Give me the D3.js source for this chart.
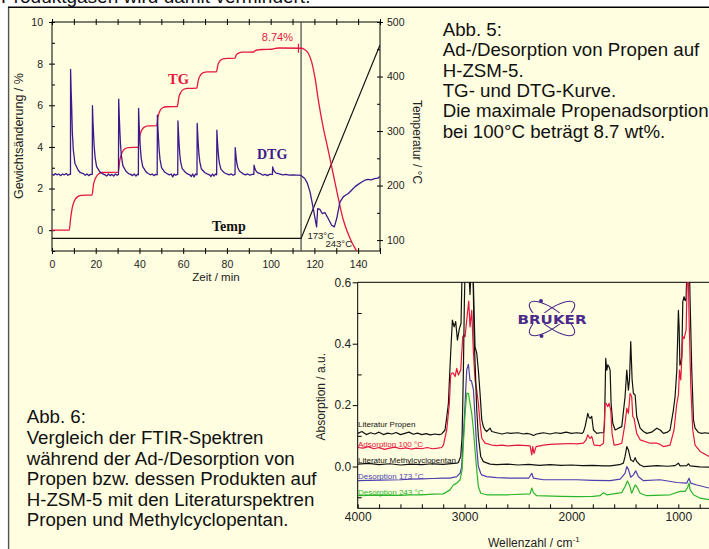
<!DOCTYPE html>
<html><head><meta charset="utf-8">
<script src="https://cdn.jsdelivr.net/npm/d3@7"></script>
<style>
html,body{margin:0;padding:0;background:#fff;}
svg{display:block;font-family:"Liberation Sans",Arial,sans-serif;}
</style></head><body>
<svg id="c" width="709" height="549"></svg>
<script>
// ---------- Abb. 5 data (time in min) ----------
const tgData = [[0,0],[7.9,0],[8.5,0.55],[9.3,1.1],[10.3,1.42],[11.6,1.6],[13.3,1.67],[18.3,1.69],
[19.0,2.2],[19.9,2.5],[21.1,2.68],[22.8,2.77],[30.3,2.79],
[31.0,3.35],[32.0,3.72],[33.2,3.9],[35.0,3.97],[39.4,3.98],
[40.1,4.5],[41.0,4.8],[42.2,4.95],[44.0,5.01],[47.9,5.02],
[48.5,5.45],[49.4,5.74],[50.6,5.88],[52.5,5.93],[57.3,5.94],
[58.0,6.38],[59.0,6.64],[60.3,6.77],[62.0,6.81],[66.2,6.82],
[66.9,7.2],[67.9,7.45],[69.2,7.57],[71.0,7.6],[75.2,7.61],
[75.9,7.95],[76.9,8.14],[78.3,8.23],[80.0,8.25],[83.6,8.26],
[84.3,8.42],[85.5,8.52],[87.0,8.55],[92.2,8.56],
[92.9,8.62],[94.2,8.66],[96.0,8.68],[100.7,8.69],
[101.3,8.72],[102.5,8.74],[104.0,8.75],[114.0,8.74],
[115.5,8.68],[117.2,8.5],[118.7,8.1],[120.3,7.3],[121.8,6.25],[124.0,4.95],[126.3,3.85],[128.0,3.0],
[129.5,2.25],[131.0,1.5],[133.2,0.5],[136.3,-0.4],[139.3,-1.0],[141,-1.3]];

const dtgData = [[0,2.7],[0.8,2.64],[1.5,2.72],[2.3,2.66],[3.1,2.7],[4,2.62],[4.8,2.7],[5.6,2.66],[6.5,2.72],[7.3,2.64],[8.0,2.68],[8.45,2.68],
[8.5,7.72],[8.75,6.7],[9.0,5.9],[9.3,4.7],[9.75,3.85],[10.5,3.2],[12,2.88],[13,2.76],[14.3,2.72],[15.2,2.64],[16,2.7],[16.8,2.62],[17.6,2.68],[18.4,2.68],
[18.5,5.98],[18.75,5.2],[19,4.6],[19.3,4.0],[19.7,3.5],[20.4,3.05],[21.9,2.8],[23,2.72],[24.2,2.66],[25,2.6],[25.8,2.7],[26.6,2.62],[27.4,2.68],[28.2,2.6],[29,2.7],[29.8,2.64],[30.4,2.68],
[30.5,6.3],[30.75,5.5],[31,4.85],[31.3,4.15],[31.7,3.6],[32.4,3.1],[33.9,2.82],[35,2.72],[36,2.68],[36.8,2.62],[37.6,2.7],[38.4,2.6],[39.0,2.68],[39.5,2.66],
[39.6,5.85],[39.85,5.1],[40.1,4.55],[40.4,3.95],[40.8,3.45],[41.5,3.05],[43,2.8],[44,2.72],[45,2.66],[45.8,2.7],[46.6,2.62],[47.4,2.68],[48.1,2.66],
[48.2,5.53],[48.45,4.9],[48.7,4.4],[49,3.85],[49.4,3.4],[50.1,3.0],[51.6,2.78],[52.6,2.72],[53.7,2.66],[54.5,2.7],[55.2,2.56],[55.8,2.7],[56.5,2.64],[57.5,2.68],
[57.6,5.25],[57.85,4.7],[58.1,4.2],[58.4,3.7],[58.8,3.3],[59.5,2.97],[61,2.78],[62,2.7],[63,2.66],[63.7,2.58],[64.3,2.7],[65,2.56],[65.6,2.7],[66.3,2.66],
[66.4,5.13],[66.65,4.6],[66.9,4.1],[67.2,3.65],[67.6,3.28],[68.3,2.95],[69.8,2.77],[71,2.7],[72,2.66],[72.7,2.58],[73.4,2.7],[74.1,2.6],[74.8,2.7],[75.3,2.66],
[75.4,4.8],[75.65,4.3],[75.9,3.9],[76.2,3.5],[76.6,3.2],[77.3,2.92],[78.8,2.76],[80,2.7],[81,2.66],[82,2.7],[82.8,2.64],[83.7,2.68],
[83.8,3.97],[84.05,3.65],[84.3,3.42],[84.6,3.18],[85,3.0],[85.7,2.84],[87.2,2.72],[88.5,2.66],[89.5,2.7],[90.5,2.64],[91.5,2.68],[92.3,2.68],
[92.4,3.12],[92.7,3.0],[93.2,2.86],[94,2.76],[95.5,2.7],[96.5,2.64],[97.5,2.68],[98.5,2.62],[99.5,2.68],[100.8,2.68],
[100.9,3.04],[101.2,2.94],[101.7,2.82],[102.5,2.74],[104,2.7],[105.5,2.66],[107,2.68],[108.5,2.64],[110,2.66],[111.5,2.64],[113,2.64],[114,2.62],
[115.6,2.48],[116.8,2.25],[118,1.84],[119.5,1.04],[120.3,0.56],[121,0.16],[121.5,1.04],[122.5,1.0],[123.6,0.8],[124.8,0.85],[126.3,0.56],[127.9,0.24],[129.1,0.16],
[130.2,0.56],[131.7,1.36],[133.2,1.6],[134.2,1.68],[135.5,1.76],[137,1.92],[138.5,2.08],[140,2.2],[141.5,2.3],[143.1,2.4],[144.5,2.44],[146,2.42],[147.5,2.48],[149,2.5],[150,2.58]];

const tempData = [[0,103],[113.9,103],[150,458]];
const switchTime = 113.9;
const maxMark = [112.7, 8.74];

const timeTicks = [0,20,40,60,80,100,120,140];
const timeMinor = d3.range(0,151,10);
const weightTicks = [0,2,4,6,8,10];
const weightMinor = d3.range(-1,11,1);
const tempTicks = [100,200,300,400,500];
const tempMinor = d3.range(100,501,50);

// ---------- Abb. 6 data (wavenumber cm-1, absorbance) ----------
const specPropen = [[4000,0.108],[3960,0.114],[3920,0.104],[3880,0.110],[3840,0.106],[3800,0.112],[3760,0.104],[3720,0.109],[3680,0.106],[3640,0.111],[3600,0.104],[3560,0.108],[3520,0.112],[3480,0.105],[3440,0.109],[3400,0.104],[3360,0.107],[3320,0.103],[3280,0.106],[3240,0.104],[3214,0.106],
[3183,0.119],[3167,0.16],[3151,0.206],[3142,0.28],[3130,0.369],[3114,0.477],[3098,0.455],[3083,0.472],[3067,0.412],[3048,0.45],[3033,0.466],[3020,0.7],[2964,0.7],[2955,0.6],[2949,0.56],[2942,0.62],[2924,0.7],[2911,0.5],[2902,0.39],[2886,0.369],[2871,0.314],[2855,0.238],[2839,0.152],[2824,0.13],[2808,0.119],[2793,0.114],[2761,0.125],[2746,0.114],
[2700,0.110],[2650,0.106],[2600,0.110],[2574,0.108],[2500,0.11],[2450,0.106],[2418,0.108],[2387,0.106],[2356,0.101],[2325,0.106],[2293,0.108],[2262,0.110],[2200,0.106],[2150,0.110],[2100,0.108],[2050,0.112],[2000,0.108],[1950,0.110],[1900,0.108],[1888,0.112],
[1872,0.130],[1847,0.173],[1835,0.16],[1825,0.157],[1810,0.163],[1794,0.119],[1763,0.108],[1732,0.110],[1700,0.110],[1691,0.13],[1679,0.352],[1669,0.314],[1660,0.331],[1648,0.325],[1638,0.314],[1629,0.206],[1613,0.141],[1591,0.119],[1560,0.125],[1529,0.13],
[1498,0.228],[1482,0.314],[1467,0.249],[1457,0.282],[1445,0.407],[1432,0.282],[1420,0.238],[1404,0.233],[1389,0.163],[1357,0.125],[1326,0.114],[1295,0.108],[1250,0.112],[1201,0.125],[1170,0.119],[1139,0.108],[1100,0.112],[1077,0.119],[1046,0.184],[1030,0.228],[1014,0.314],
[999,0.509],[992,0.45],[985,0.33],[975,0.34],[967,0.36],[958,0.537],[946,0.553],[935,0.54],[927,0.547],[915,0.7],[899,0.7],[889,0.531],[874,0.314],[858,0.152],[843,0.125],[812,0.111],[780,0.108],[750,0.110],[712,0.108],[650,0.108]];

const specAds100 = [[4000,0.062],[3950,0.060],[3900,0.065],[3850,0.058],[3800,0.062],[3750,0.056],[3700,0.060],[3650,0.063],[3600,0.058],[3550,0.061],[3500,0.057],[3450,0.060],[3400,0.058],[3350,0.062],[3300,0.058],[3250,0.060],[3214,0.062],
[3198,0.070],[3167,0.119],[3142,0.206],[3130,0.298],[3120,0.304],[3105,0.304],[3089,0.293],[3073,0.32],[3058,0.298],[3036,0.314],[3017,0.423],[3005,0.428],[2995,0.423],[2980,0.477],[2961,0.539],[2949,0.455],[2933,0.509],[2917,0.369],[2902,0.282],[2886,0.249],[2871,0.206],[2855,0.141],[2839,0.092],[2808,0.076],[2746,0.070],
[2700,0.068],[2650,0.070],[2600,0.067],[2500,0.070],[2418,0.068],[2387,0.067],[2371,0.038],[2362,0.065],[2350,0.043],[2331,0.065],[2262,0.070],[2200,0.072],[2100,0.074],[2000,0.075],[1950,0.074],[1888,0.076],
[1863,0.087],[1847,0.103],[1835,0.096],[1825,0.092],[1810,0.098],[1788,0.070],[1732,0.068],[1700,0.076],[1685,0.206],[1676,0.206],[1660,0.195],[1648,0.206],[1632,0.184],[1620,0.108],[1601,0.070],[1560,0.072],[1529,0.076],
[1498,0.141],[1482,0.19],[1467,0.173],[1451,0.238],[1436,0.228],[1426,0.163],[1414,0.157],[1389,0.108],[1357,0.087],[1264,0.076],[1201,0.076],[1170,0.072],[1139,0.065],[1077,0.070],[1040,0.119],[1014,0.206],
[999,0.233],[989,0.314],[977,0.282],[958,0.423],[946,0.417],[927,0.444],[911,0.7],[899,0.48],[883,0.260],[865,0.119],[843,0.070],[796,0.049],[712,0.033],[650,0.025]];

const specMCP = [[4000,0.008],[3900,0.010],[3800,0.006],[3700,0.009],[3600,0.005],[3500,0.008],[3400,0.006],[3300,0.009],[3200,0.007],[3100,0.010],[3073,0.011],[3058,0.013],[3036,0.033],[3023,0.098],[3011,0.314],[3002,0.531],[2992,0.7],[2924,0.7],[2911,0.423],[2899,0.314],[2886,0.184],[2871,0.098],[2849,0.033],[2824,0.016],[2761,0.008],
[2700,0.006],[2600,0.008],[2500,0.005],[2400,0.007],[2300,0.004],[2200,0.006],[2100,0.004],[2000,0.005],[1900,0.003],[1800,0.004],[1700,0.002],[1638,0.002],[1550,0.006],[1514,0.011],[1498,0.033],[1482,0.065],[1467,0.054],[1445,0.022],[1420,0.016],[1404,0.029],[1389,0.016],[1357,0.005],[1326,0.0],
[1200,0.003],[1100,0.001],[1030,0.003],[999,0.011],[983,0.002],[921,0.003],[905,0.009],[889,0.002],[800,-0.001],[712,-0.002],[650,-0.003]];

const specDes173 = [[4000,-0.046],[3800,-0.044],[3600,-0.043],[3510,-0.041],[3400,-0.040],[3300,-0.039],[3200,-0.038],[3136,-0.038],[3073,-0.033],[3042,-0.022],[3027,0.0],[3011,0.098],[2995,0.206],[2980,0.314],[2964,0.333],[2949,0.28],[2936,0.28],[2917,0.25],[2902,0.16],[2886,0.06],[2871,0.0],[2849,-0.022],[2839,-0.027],[2793,-0.033],
[2700,-0.036],[2574,-0.038],[2400,-0.038],[2371,-0.022],[2356,-0.038],[2262,-0.043],[2100,-0.043],[1950,-0.043],[1800,-0.045],[1638,-0.046],[1544,-0.041],[1498,-0.022],[1482,0.0],[1467,-0.009],[1445,-0.035],[1420,-0.027],[1398,-0.014],[1373,-0.033],[1326,-0.046],
[1170,-0.043],[1014,-0.052],[921,-0.054],[899,-0.038],[883,-0.054],[827,-0.060],[712,-0.070],[650,-0.075]];

const specDes243 = [[4000,-0.095],[3800,-0.093],[3600,-0.094],[3510,-0.092],[3400,-0.092],[3300,-0.090],[3198,-0.089],[3136,-0.076],[3105,-0.060],[3073,-0.054],[3042,-0.043],[3023,-0.011],[3011,0.076],[2995,0.173],[2980,0.238],[2964,0.238],[2949,0.206],[2933,0.173],[2917,0.119],[2902,0.054],[2886,-0.011],[2871,-0.065],[2849,-0.087],[2793,-0.092],
[2600,-0.092],[2387,-0.089],[2371,-0.070],[2356,-0.085],[2325,-0.095],[2100,-0.097],[1950,-0.098],[1800,-0.097],[1732,-0.095],[1700,-0.085],[1669,-0.092],[1529,-0.085],[1498,-0.065],[1476,-0.047],[1457,-0.060],[1436,-0.087],[1404,-0.060],[1389,-0.065],[1357,-0.087],[1295,-0.095],
[1077,-0.092],[983,-0.081],[936,-0.081],[915,-0.070],[899,-0.054],[889,-0.076],[858,-0.092],[796,-0.103],[712,-0.108],[650,-0.11]];

const spectra = [
  {name:"Literatur Propen", data:specPropen, color:"#111111", ly:427},
  {name:"Adsorption 100 °C", data:specAds100, color:"#e5173f", ly:447},
  {name:"Literatur Methylcyclopentan", data:specMCP, color:"#111111", ly:463},
  {name:"Desorption 173 °C", data:specDes173, color:"#4d3fae", ly:479},
  {name:"Desorption 243 °C", data:specDes243, color:"#2cb52c", ly:495}
];
const wnLabels = [4000,3000,2000,1000];
const wnMinor = d3.range(4000,599,-200);
const absTicks = [0,0.2,0.4,0.6];
const absMinor = [-0.1,0.1,0.3,0.5];

// ---------- drawing ----------
const svg = d3.select('#c');
const RED="#e5173f", PURPLE="#3c1a8c";

svg.append('rect').attr('x',8).attr('y',7).attr('width',701).attr('height',542).attr('fill','#fffee0');
svg.append('line').attr('x1',8.6).attr('x2',8.6).attr('y1',7).attr('y2',549).attr('stroke','#555').attr('stroke-width',1.4);
svg.append('line').attr('x1',8).attr('x2',709).attr('y1',7.3).attr('y2',7.3).attr('stroke','#000').attr('stroke-width',1.4);
svg.append('text').attr('x',1).attr('y',3).attr('font-size',19).attr('fill','#111').text('Produktgasen wird damit vermindert.');

// ===== Top chart =====
const xT = d3.scaleLinear().domain([0,150]).range([52,380]);
const yL = d3.scaleLinear().domain([-1,10]).range([251,22]);
const yR = d3.scaleLinear().domain([80,500]).range([251,22]);

const defs = svg.append('defs');
defs.append('clipPath').attr('id','clipT').append('rect').attr('x',52).attr('y',22).attr('width',328).attr('height',229);
defs.append('clipPath').attr('id','clipS').append('rect').attr('x',357.7).attr('y',282.3).attr('width',360).attr('height',226);

function styleAxis(g, size, color){
  g.attr('font-family','"Liberation Sans",Arial,sans-serif').attr('font-size',size);
  g.selectAll('text').attr('fill',color||'#222');
  g.selectAll('line').attr('stroke','#000');
  g.select('.domain').remove();
}
const gT = svg.append('g');
// bottom
gT.append('g').attr('transform','translate(0,251)')
  .call(d3.axisBottom(xT).tickValues(timeTicks).tickSize(0).tickPadding(9.5)).call(g=>styleAxis(g,10.5));
gT.append('g').attr('transform','translate(0,251)')
  .call(d3.axisBottom(xT).tickValues(timeMinor).tickSize(3).tickFormat('')).call(g=>styleAxis(g,10.5));
gT.append('g').attr('transform','translate(0,251)')
  .call(d3.axisBottom(xT).tickValues(timeMinor).tickSize(-3).tickFormat('')).call(g=>styleAxis(g,10.5));
// top
gT.append('g').attr('transform','translate(0,22)')
  .call(d3.axisTop(xT).tickValues(timeMinor).tickSize(3).tickFormat('')).call(g=>styleAxis(g,10.5));
gT.append('g').attr('transform','translate(0,22)')
  .call(d3.axisTop(xT).tickValues(timeMinor).tickSize(-3).tickFormat('')).call(g=>styleAxis(g,10.5));
// left
gT.append('g').attr('transform','translate(52,0)')
  .call(d3.axisLeft(yL).tickValues(weightTicks).tickSize(3).tickPadding(6)).call(g=>styleAxis(g,10.5));
gT.append('g').attr('transform','translate(52,0)')
  .call(d3.axisLeft(yL).tickValues(weightMinor).tickSize(-3).tickFormat('')).call(g=>styleAxis(g,10.5));
// right
gT.append('g').attr('transform','translate(380,0)')
  .call(d3.axisRight(yR).tickValues(tempTicks).tickSize(3).tickPadding(4)).call(g=>styleAxis(g,10.5));
gT.append('g').attr('transform','translate(380,0)')
  .call(d3.axisRight(yR).tickValues(tempMinor).tickSize(-3).tickFormat('')).call(g=>styleAxis(g,10.5));
// frame
gT.append('rect').attr('x',xT(0)).attr('y',yL(10)).attr('width',xT(150)-xT(0)).attr('height',yL(-1)-yL(10))
  .attr('fill','none').attr('stroke','#000').attr('stroke-width',1);

// axis titles
gT.append('text').attr('transform',`translate(23,136) rotate(-90)`).attr('text-anchor','middle')
  .attr('font-size',12.5).attr('fill','#222').text('Gewichtsänderung  /  %');
gT.append('text').attr('x',(xT(0)+xT(150))/2).attr('y',281).attr('text-anchor','middle')
  .attr('font-size',11.5).attr('fill','#222').text('Zeit  /  min');
gT.append('text').attr('transform',`translate(413,142) rotate(90)`).attr('text-anchor','middle')
  .attr('font-size',12).attr('fill','#222').text('Temperatur  /  °C');

const plotT = gT.append('g').attr('clip-path','url(#clipT)');
// vertical switch line
plotT.append('line').attr('x1',xT(switchTime)).attr('x2',xT(switchTime)).attr('y1',yL(10)).attr('y2',yL(-1))
  .attr('stroke','#444').attr('stroke-width',1.2);
// temp
plotT.append('path').datum(tempData)
  .attr('d',d3.line().x(d=>xT(d[0])).y(d=>yR(d[1])))
  .attr('fill','none').attr('stroke','#111').attr('stroke-width',1.2);
// TG
plotT.append('path').datum(tgData)
  .attr('d',d3.line().x(d=>xT(d[0])).y(d=>yL(d[1])).curve(d3.curveMonotoneX))
  .attr('fill','none').attr('stroke',RED).attr('stroke-width',1.3);
// DTG
plotT.append('path').datum(dtgData)
  .attr('d',d3.line().x(d=>xT(d[0])).y(d=>yL(d[1])))
  .attr('fill','none').attr('stroke',PURPLE).attr('stroke-width',1.3).attr('stroke-linejoin','round');
// max marker
plotT.append('line').attr('x1',xT(maxMark[0])).attr('x2',xT(maxMark[0]))
  .attr('y1',yL(maxMark[1])-4.5).attr('y2',yL(maxMark[1])+4.5).attr('stroke',RED).attr('stroke-width',1.2);

// labels
gT.append('text').attr('x',293).attr('y',41).attr('text-anchor','end').attr('font-size',11).attr('fill',RED).text('8.74%');
gT.append('text').attr('x',168).attr('y',84).attr('font-family','"Liberation Serif",serif').attr('font-weight','bold')
  .attr('font-size',14.5).attr('fill',RED).text('TG');
gT.append('text').attr('x',257).attr('y',158.5).attr('font-family','"Liberation Serif",serif').attr('font-weight','bold')
  .attr('font-size',14).attr('fill',PURPLE).text('DTG');
gT.append('text').attr('x',212).attr('y',231).attr('font-family','"Liberation Serif",serif').attr('font-weight','bold')
  .attr('font-size',14).attr('fill','#111').text('Temp');
gT.append('text').attr('x',307.5).attr('y',238.5).attr('font-size',9.5).attr('fill','#222').text('173°C');
gT.append('text').attr('x',325.5).attr('y',247).attr('font-size',9.5).attr('fill','#222').text('243°C');

// ===== Text blocks =====
const abb5 = ['Abb. 5:','Ad-/Desorption von Propen auf','H-ZSM-5.','TG- und DTG-Kurve.','Die maximale Propenadsorption','bei 100°C beträgt 8.7 wt%.'];
const t5 = svg.append('text').attr('font-size',18.7).attr('fill','#111');
abb5.forEach((s,i)=>t5.append('tspan').attr('x',442.7).attr('y',36+i*20.3).text(s));
const abb6 = ['Abb. 6:','Vergleich der FTIR-Spektren','während der Ad-/Desorption von','Propen bzw. dessen Produkten auf','H-ZSM-5 mit den Literaturspektren','Propen und Methylcyclopentan.'];
const t6 = svg.append('text').attr('font-size',18.7).attr('fill','#111');
abb6.forEach((s,i)=>t6.append('tspan').attr('x',26.7).attr('y',423.3+i*20.6).text(s));

// ===== Bottom chart =====
const xS = d3.scaleLinear().domain([4000,600]).range([357.7,357.7+3400*0.106867]);
const yS = d3.scaleLinear().domain([-0.136,0.6]).range([508.3,282.3]);
const gS = svg.append('g');

gS.append('g').attr('transform','translate(0,508.3)')
  .call(d3.axisBottom(xS).tickValues(wnLabels).tickSize(0).tickPadding(3.7).tickFormat(d3.format('d'))).call(g=>styleAxis(g,12));
gS.append('g').attr('transform','translate(0,508.3)')
  .call(d3.axisBottom(xS).tickValues(wnMinor).tickSize(-4).tickFormat('')).call(g=>styleAxis(g,12));
gS.append('g').attr('transform','translate(357.7,0)')
  .call(d3.axisLeft(yS).tickValues(absTicks).tickSize(5).tickPadding(1.5).tickFormat(d3.format('.1f'))).call(g=>styleAxis(g,12));
gS.append('g').attr('transform','translate(357.7,0)')
  .call(d3.axisLeft(yS).tickValues(absMinor).tickSize(-4).tickFormat('')).call(g=>styleAxis(g,12));

// frame lines
gS.append('line').attr('x1',xS(4000)).attr('x2',xS(4000)).attr('y1',yS(0.6)).attr('y2',yS(-0.136)).attr('stroke','#000').attr('stroke-width',1);
gS.append('line').attr('x1',xS(4000)).attr('x2',709).attr('y1',yS(0.6)).attr('y2',yS(0.6)).attr('stroke','#000').attr('stroke-width',1);
gS.append('line').attr('x1',xS(4000)).attr('x2',709).attr('y1',yS(-0.136)).attr('y2',yS(-0.136)).attr('stroke','#000').attr('stroke-width',1);

gS.append('text').attr('transform','translate(325,396.7) rotate(-90)').attr('text-anchor','middle')
  .attr('font-size',12).attr('fill','#222').text('Absorption  /  a.u.');
const wl = gS.append('text').attr('x',488).attr('y',547).attr('font-size',12).attr('fill','#222');
wl.append('tspan').text('Wellenzahl  /  cm');
wl.append('tspan').attr('font-size',8).attr('dy',-5).text('-1');

const plotS = gS.append('g').attr('clip-path','url(#clipS)');
const specLine = d3.line().x(d=>xS(d[0])).y(d=>yS(d[1]));
spectra.forEach(s=>{
  plotS.append('path').datum(s.data).attr('d',specLine).attr('fill','none')
    .attr('stroke',s.color).attr('stroke-width',1.2).attr('stroke-linejoin','round');
});
spectra.forEach(s=>{
  gS.append('text').attr('x',358).attr('y',s.ly).attr('font-size',8).attr('fill',s.color).text(s.name);
});

// Bruker logo
const LOGO="#4a2a8a";
const lg = svg.append('g').attr('transform','translate(552,318.5)');
lg.append('ellipse').attr('rx',27).attr('ry',9).attr('transform','rotate(35)').attr('fill','none').attr('stroke',LOGO).attr('stroke-width',1.1);
lg.append('ellipse').attr('rx',27).attr('ry',9).attr('transform','rotate(-35)').attr('fill','none').attr('stroke',LOGO).attr('stroke-width',1.1);
lg.append('circle').attr('cx',-11).attr('cy',-17.5).attr('r',2).attr('fill',LOGO);
lg.append('circle').attr('cx',-10.5).attr('cy',17.5).attr('r',2).attr('fill',LOGO);
lg.append('rect').attr('x',-35).attr('y',-5.5).attr('width',70).attr('height',11).attr('fill','#fffee0');
lg.append('text').attr('x',-34.5).attr('y',5).attr('font-family','"DejaVu Sans",sans-serif').attr('font-size',12.5).attr('font-weight','bold').attr('fill',LOGO)
  .attr('textLength',69).attr('lengthAdjust','spacingAndGlyphs').text('BRUKER');
</script>
</body></html>
